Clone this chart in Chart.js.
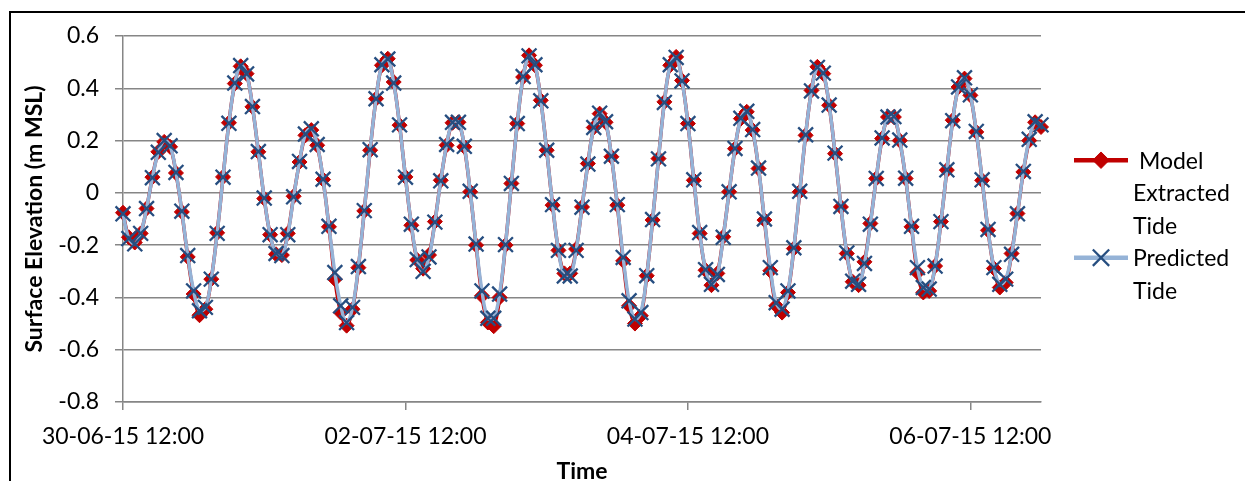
<!DOCTYPE html>
<html>
<head>
<meta charset="utf-8">
<script src="https://cdn.jsdelivr.net/npm/chart.js@4.4.1/dist/chart.umd.min.js"></script>
<style>
  html,body{margin:0;padding:0;background:#fff;overflow:hidden}
  #wrap{position:relative;width:1245px;height:481px;overflow:hidden}
  #frame{position:absolute;left:9px;top:11px;width:1400px;height:700px;border:2px solid #000}
  #c{position:absolute;left:0;top:0}
</style>
</head>
<body>
<div id="wrap"><div id="frame"></div><canvas id="c" width="1245" height="490"></canvas></div>
<script>
// Ticks del eje X (horas desde 30-06-15 12:00) y sus etiquetas
const tickHours  = [0, 48, 96, 144];
const tickLabels = ['30-06-15 12:00', '02-07-15 12:00', '04-07-15 12:00', '06-07-15 12:00'];
const yTicks     = [-0.8, -0.6, -0.4, -0.2, 0, 0.2, 0.4, 0.6];

// Textos de leyenda (una línea por renglón, como en el original)
const modelLegend = [' Model', 'Extracted', 'Tide'];
const predLegend  = ['Predicted', 'Tide'];

// Nivel del agua (m MSL), un valor por hora
const modelElev = [
  -0.076,-0.17,-0.19,-0.155,-0.06,0.06,0.157,0.195,0.176,0.076,-0.073,-0.245,
  -0.387,-0.468,-0.445,-0.33,-0.153,0.061,0.268,0.418,0.484,0.456,0.329,0.157,
  -0.022,-0.16,-0.235,-0.238,-0.155,-0.013,0.118,0.22,0.24,0.182,0.051,-0.13,
  -0.33,-0.458,-0.508,-0.445,-0.286,-0.069,0.163,0.36,0.488,0.513,0.424,0.259,
  0.061,-0.124,-0.257,-0.29,-0.238,-0.11,0.048,0.182,0.268,0.27,0.176,0.004,
  -0.2,-0.394,-0.496,-0.51,-0.40,-0.2,0.036,0.265,0.443,0.526,0.488,0.354,
  0.163,-0.047,-0.22,-0.308,-0.308,-0.215,-0.054,0.112,0.25,0.303,0.27,0.138,
  -0.047,-0.26,-0.432,-0.50,-0.47,-0.317,-0.104,0.131,0.348,0.488,0.52,0.43,
  0.265,0.048,-0.155,-0.296,-0.353,-0.308,-0.168,0.004,0.169,0.284,0.31,0.24,
  0.093,-0.104,-0.298,-0.432,-0.458,-0.381,-0.213,0.004,0.22,0.392,0.482,0.456,
  0.335,0.15,-0.054,-0.232,-0.34,-0.353,-0.264,-0.117,0.055,0.208,0.29,0.29,
  0.2,0.055,-0.13,-0.305,-0.381,-0.375,-0.28,-0.11,0.087,0.278,0.405,0.437,
  0.373,0.233,0.048,-0.143,-0.289,-0.362,-0.343,-0.232,-0.079,0.08,0.2,0.27,
  0.252
];

const predElev = [
  -0.08,-0.175,-0.195,-0.155,-0.06,0.058,0.155,0.2,0.18,0.078,-0.07,-0.24,
  -0.375,-0.451,-0.438,-0.33,-0.155,0.06,0.266,0.42,0.487,0.455,0.33,0.158,
  -0.02,-0.16,-0.232,-0.24,-0.16,-0.015,0.12,0.225,0.245,0.185,0.052,-0.128,
  -0.305,-0.432,-0.496,-0.438,-0.282,-0.068,0.165,0.36,0.49,0.512,0.42,0.26,
  0.06,-0.12,-0.255,-0.3,-0.245,-0.112,0.046,0.185,0.27,0.27,0.178,0.006,
  -0.196,-0.375,-0.48,-0.48,-0.387,-0.198,0.036,0.265,0.445,0.524,0.49,0.352,
  0.163,-0.045,-0.22,-0.318,-0.318,-0.22,-0.055,0.11,0.25,0.305,0.272,0.14,
  -0.045,-0.247,-0.413,-0.483,-0.458,-0.317,-0.102,0.13,0.346,0.49,0.518,0.428,
  0.265,0.05,-0.152,-0.294,-0.35,-0.312,-0.17,0.004,0.17,0.285,0.312,0.242,
  0.095,-0.1,-0.286,-0.42,-0.445,-0.375,-0.21,0.006,0.222,0.39,0.48,0.458,
  0.336,0.152,-0.052,-0.23,-0.338,-0.35,-0.27,-0.12,0.055,0.21,0.29,0.292,
  0.202,0.056,-0.128,-0.286,-0.362,-0.368,-0.28,-0.11,0.088,0.276,0.405,0.44,
  0.375,0.235,0.05,-0.14,-0.286,-0.35,-0.33,-0.235,-0.08,0.082,0.205,0.272,
  0.26
];

const hours = modelElev.map((_, i) => i);
const toPts = arr => arr.map((v, i) => ({ x: hours[i], y: v }));

const FONT = 'Lato';
const GRID = '#868686';

// ── Leyenda lateral (el texto va en varias líneas) ──
const sideLegend = {
  id: 'sideLegend',
  afterDraw(chart){
    const c = chart.ctx;
    const lineStep = 32.5;
    let base = 168.5;            // línea base del primer renglón
    c.save();
    chart.data.datasets.forEach(ds => {
      const yMid = base - 8.3;
      c.strokeStyle = ds.borderColor;
      c.lineWidth = ds.borderWidth + 1;
      c.beginPath(); c.moveTo(1074, yMid); c.lineTo(1128, yMid); c.stroke();
      c.fillStyle = ds.pointBackgroundColor || ds.pointBorderColor;
      c.strokeStyle = ds.pointBorderColor;
      c.lineWidth = ds.pointBorderWidth;
      Chart.helpers.drawPoint(c, {
        pointStyle: ds.pointStyle, rotation: 0,
        radius: ds.pointRadius * 1.1, borderWidth: ds.pointBorderWidth
      }, 1101, yMid);
      c.fillStyle = '#000';
      c.font = `23px ${FONT}`;
      c.textBaseline = 'alphabetic';
      c.textAlign = 'left';
      ds.legendLines.forEach(t => { c.fillText(t, 1133, base); base += lineStep; });
    });
    c.restore();
  }
};

function draw(){
  new Chart(document.getElementById('c'), {
    type: 'line',
    data: {
      datasets: [
        {
          label: 'Model Extracted Tide',
          legendLines: modelLegend,
          data: toPts(modelElev),
          borderColor: '#C00000',
          borderWidth: 3.5,
          pointStyle: 'rectRot',
          pointRadius: 7.5,
          pointBackgroundColor: '#C00000',
          pointBorderColor: '#C00000',
          pointBorderWidth: 1,
          tension: 0.4,
          clip: false,
          order: 2
        },
        {
          label: 'Predicted Tide',
          legendLines: predLegend,
          data: toPts(predElev),
          borderColor: '#95B3D7',
          borderWidth: 3.5,
          pointStyle: 'crossRot',
          pointRadius: 10.5,
          pointBorderColor: '#264E80',
          pointBorderWidth: 2.3,
          tension: 0.4,
          clip: false,
          order: 1
        }
      ]
    },
    options: {
      responsive: false,
      animation: false,
      layout: { padding: { left: 18, top: 36, right: 204, bottom: 0 } },
      plugins: { legend: { display: false }, tooltip: { enabled: false } },
      scales: {
        x: {
          type: 'linear', min: 0, max: 156,
          afterBuildTicks: s => { s.ticks = tickHours.map(v => ({ value: v })); },
          afterFit: s => { s.height = 88; },
          grid: { drawOnChartArea: false, tickLength: 8, color: GRID, lineWidth: 1.5 },
          border: { color: GRID, width: 1.5 },
          ticks: {
            autoSkip: false, maxRotation: 0, padding: 13, color: '#000',
            font: { family: FONT, size: 23 },
            callback: v => tickLabels[tickHours.indexOf(v)] ?? ''
          },
          title: {
            display: true, text: 'Time', color: '#000',
            font: { family: FONT, size: 23, weight: 'bold' },
            padding: { top: 0, bottom: 5 }
          }
        },
        y: {
          min: -0.8, max: 0.6,
          afterBuildTicks: s => { s.ticks = yTicks.map(v => ({ value: v })); },
          afterFit: s => { s.width = 105; },
          grid: { color: GRID, lineWidth: 1.5, tickLength: 8 },
          border: { color: GRID, width: 1.5 },
          ticks: {
            padding: 16, color: '#000',
            font: { family: FONT, size: 23 },
            callback: v => Math.abs(v) < 1e-9 ? '0' : (Math.round(v * 10) / 10).toFixed(1)
          },
          title: {
            display: true, text: 'Surface Elevation (m MSL)', color: '#000',
            font: { family: FONT, size: 23, weight: 'bold' },
            padding: { top: 3, bottom: 0 }
          }
        }
      }
    },
    plugins: [sideLegend]
  });
}

document.fonts.load(`23px ${FONT}`).then(draw, draw);
</script>
</body>
</html>
